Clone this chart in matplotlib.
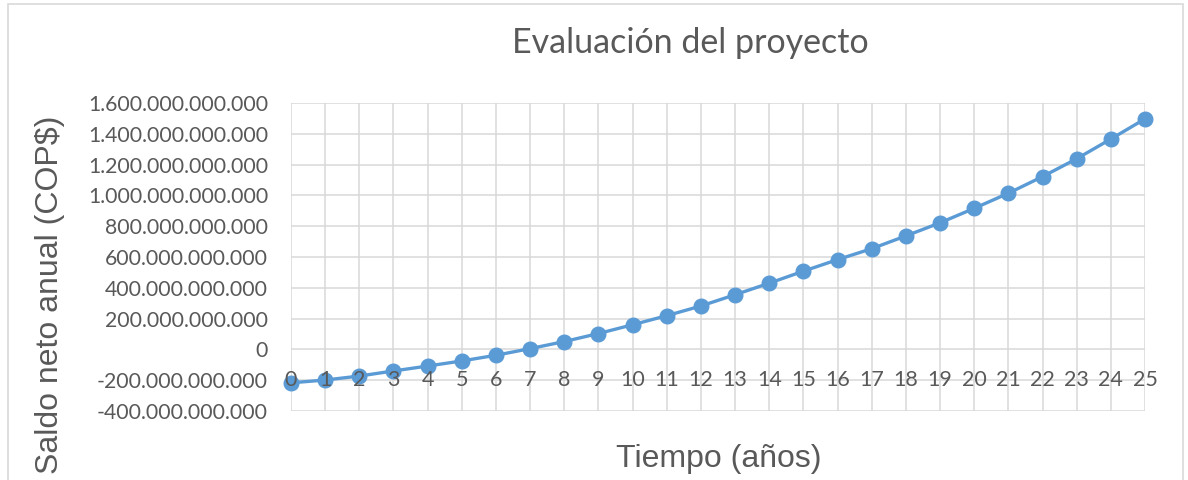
import matplotlib
matplotlib.use("Agg")
import matplotlib.pyplot as plt
from matplotlib.ticker import FuncFormatter, MultipleLocator
from matplotlib.patches import Rectangle

# Data
years = list(range(26))
x_labels = [str(y) for y in years]
saldo = [-0.217e12, -0.199e12, -0.173e12, -0.140e12, -0.108e12, -0.075e12,
         -0.038e12, 0.005e12, 0.051e12, 0.103e12, 0.160e12, 0.219e12,
         0.282e12, 0.355e12, 0.430e12, 0.508e12, 0.583e12, 0.654e12,
         0.737e12, 0.822e12, 0.916e12, 1.014e12, 1.122e12, 1.238e12,
         1.366e12, 1.497e12]
title = "Evaluación del proyecto"
xlabel = "Tiempo (años)"
ylabel = "Saldo neto anual (COP$)"

W, H = 1188, 480
fig = plt.figure(figsize=(W / 100, H / 100), dpi=100)
fig.patch.set_facecolor("white")

# outer chart border
fig.patches.append(Rectangle((8 / W, -0.05), (1183 - 8) / W, 1.05 - 4 / H,
                             transform=fig.transFigure, fill=False,
                             edgecolor="#d9d9d9", lw=1.2))

ax = fig.add_axes([291 / W, 1 - 411 / H, (1145 - 291) / W, (411 - 103) / H])
ax.set_xlim(0, 25)
ax.set_ylim(-0.4e12, 1.6e12)
for s in ax.spines.values():
    s.set_visible(False)
ax.yaxis.set_major_locator(MultipleLocator(0.2e12))
ax.xaxis.set_major_locator(MultipleLocator(1))
ax.grid(True, color="#d9d9d9", lw=1.1)
ax.set_axisbelow(True)

def fmt(v, pos):
    v = int(round(v))
    if v == 0:
        return "0"
    return f"{v:,}".replace(",", ".")

ax.yaxis.set_major_formatter(FuncFormatter(fmt))
ax.tick_params(axis="y", length=0, pad=16.5, labelsize=15.3, labelcolor="#595959")
ax.tick_params(axis="x", length=0, labelbottom=False)
for lab in ax.get_yticklabels():
    lab.set_fontfamily("Lato")

for xv, lab in zip(years, x_labels):
    ax.text(xv, -0.2e12, lab, ha="center", va="center", fontsize=15.5,
            color="#595959", family="Lato", zorder=5)

ax.plot(years, saldo, color="#5b9bd5", lw=2.4, marker="o", markersize=10.5,
        clip_on=False, zorder=3)

fig.text(690 / W, 1 - 53.3 / H, title, ha="center", va="baseline",
         fontsize=24.5, color="#595959", family="Lato")
fig.text(719 / W, 1 - 467 / H, xlabel, ha="center", va="baseline",
         fontsize=23, color="#595959", family="Liberation Sans")
fig.text(50 / W, 1 - 295 / H, ylabel, ha="center", va="center", rotation=90,
         fontsize=23, color="#595959", family="Liberation Sans")

fig.savefig("out.png", dpi=100)
